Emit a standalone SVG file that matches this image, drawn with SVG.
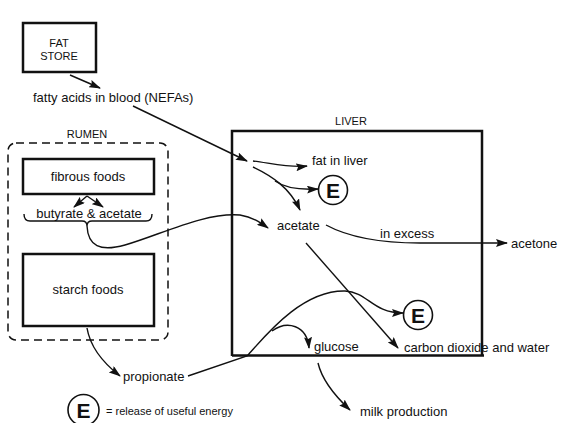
<svg xmlns="http://www.w3.org/2000/svg" width="583" height="423" viewBox="0 0 583 423">
<style>
text{font-family:"Liberation Sans",Arial,sans-serif;fill:#111;}
.t13{font-size:13px;}
.t11{font-size:11px;}
.box{fill:none;stroke:#111;stroke-width:2.5;}
.c{fill:none;stroke:#111;stroke-width:1.4;}
.e{fill:#fff;stroke:#111;stroke-width:1.6;}
.el{font-size:21px;font-weight:bold;text-anchor:middle;}
</style>
<defs>
<marker id="ah" viewBox="0 0 12 8" refX="11" refY="4" markerWidth="12" markerHeight="8" markerUnits="userSpaceOnUse" orient="auto">
<path d="M0,0 L12,4 L0,8 L2,4 Z" fill="#111"/>
</marker>
</defs>
<rect width="583" height="423" fill="#fff"/>

<g id="fat-store">
<rect class="box" x="23" y="23" width="73" height="49"/>
<text class="t11" x="59" y="47" text-anchor="middle">FAT</text>
<text class="t11" x="59" y="60" text-anchor="middle">STORE</text>
</g>

<g id="nefas">
<text class="t13" x="33" y="102">fatty acids in blood (NEFAs)</text>
</g>

<g id="rumen">
<text class="t11" x="87" y="138" text-anchor="middle">RUMEN</text>
<rect x="8" y="143" width="160" height="197" rx="8" fill="none" stroke="#111" stroke-width="1.5" stroke-dasharray="8,5"/>
</g>

<g id="fibrous-foods">
<rect class="box" x="23" y="159" width="131" height="35"/>
<text class="t13" x="88" y="181" text-anchor="middle">fibrous foods</text>
</g>

<g id="butyrate-acetate">
<text class="t13" x="89" y="218" text-anchor="middle">butyrate &amp; acetate</text>
<path class="c" d="M24,214 Q24,221 30,221 L82,221 Q87,221 87,226 Q87,221 92,221 L146,221 Q152,221 152,214"/>
</g>

<g id="starch-foods">
<rect class="box" x="23" y="254" width="131" height="72"/>
<text class="t13" x="88" y="294" text-anchor="middle">starch foods</text>
</g>

<g id="propionate">
<text class="t13" x="123" y="381">propionate</text>
</g>

<g id="liver">
<text class="t11" x="351" y="125" text-anchor="middle">LIVER</text>
<path d="M232,356 L232,131 L482,131 L482,355" fill="none" stroke="#111" stroke-width="2.5"/>
<line x1="232" y1="355.5" x2="484" y2="355.5" stroke="#111" stroke-width="2.5"/>
</g>

<g id="fat-in-liver">
<text class="t13" x="312" y="165">fat in liver</text>
</g>

<g id="energy-1">
<circle class="e" cx="333" cy="190" r="14.5"/>
<text class="el" x="333" y="198">E</text>
</g>

<g id="acetate">
<text class="t13" x="277" y="230">acetate</text>
</g>

<g id="in-excess">
<text class="t13" x="380" y="238">in excess</text>
</g>

<g id="acetone">
<text class="t13" x="511" y="248">acetone</text>
</g>

<g id="energy-2">
<circle class="e" cx="418" cy="315" r="14.5"/>
<text class="el" x="418" y="323">E</text>
</g>

<g id="glucose">
<text class="t13" x="314" y="351">glucose</text>
</g>

<g id="co2-water">
<text class="t13" x="404" y="352">carbon dioxide and water</text>
</g>

<g id="milk-production">
<text class="t13" x="360" y="416">milk production</text>
</g>

<g id="legend">
<circle class="e" cx="83.5" cy="410" r="15.5"/>
<text class="el" x="83.5" y="417.5">E</text>
<text class="t11" x="106" y="415">=  release of useful energy</text>
</g>

<g id="connectors">
<path class="c" d="M70,75 L100,88" marker-end="url(#ah)"/>
<path class="c" d="M133,106 L247,161" marker-end="url(#ah)"/>
<path class="c" d="M87,196 L74,207" marker-end="url(#ah)"/>
<path class="c" d="M87,196 L103,207" marker-end="url(#ah)"/>
<path class="c" d="M87,226 C88,246 100,252 125,245 C160,235 205,212 240,215 C253,217 261,223 268,228" marker-end="url(#ah)"/>
<path class="c" d="M87,328 C90,346 102,362 120,376" marker-end="url(#ah)"/>
<path class="c" d="M253,161 C270,163 290,168 307,166" marker-end="url(#ah)"/>
<path class="c" d="M253,167 C272,176 290,188 300,210" marker-end="url(#ah)"/>
<path class="c" d="M275,181 C285,188 300,190 318,189" marker-end="url(#ah)"/>
<path class="c" d="M326,225 C350,238 380,243 420,243 L507,243" marker-end="url(#ah)"/>
<path class="c" d="M306,243 L398,348" marker-end="url(#ah)"/>
<path class="c" d="M188,376 L247,356 C262,340 300,290 345,291 C368,292 372,313 403,313" marker-end="url(#ah)"/>
<path class="c" d="M272,331 C287,320 307,325 309,348" marker-end="url(#ah)"/>
<path class="c" d="M318,363 C322,380 335,396 350,410" marker-end="url(#ah)"/>
</g>
</svg>
